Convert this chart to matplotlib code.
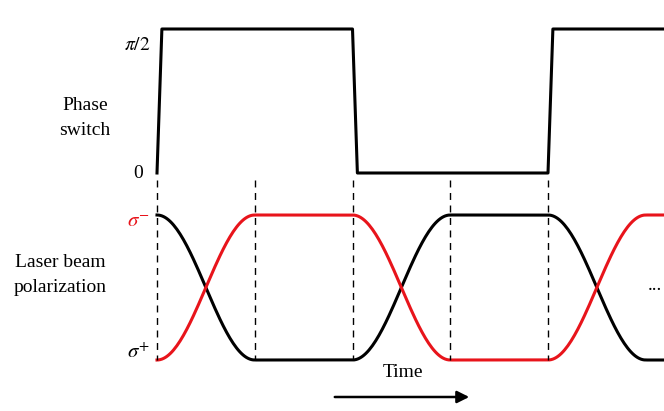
import numpy as np
import matplotlib.pyplot as plt

plt.rcParams['font.family'] = ['Liberation Serif', 'DejaVu Serif']
plt.rcParams['mathtext.fontset'] = 'stix'

# phase switch: time (in units of one half-cycle) and phase value
phase_t = [0, 0.05, 2.0, 2.05, 4.0, 4.05, 5.2]
phase_v = [0, np.pi / 2, np.pi / 2, 0, 0, np.pi / 2, np.pi / 2]

# polarization state of black beam at segment boundaries (+1 = sigma-, -1 = sigma+)
seg_t = [0, 1, 2, 3, 4, 5, 5.2]
black_state = [1, -1, -1, 1, 1, -1, -1]
dash_t = [0, 1, 2, 3, 4]

px_per_t = 97.75
x0 = 157


def tx(t):
    return x0 + np.asarray(t) * px_per_t


def phase_y(v):
    return 173 - 144 * np.asarray(v) / (np.pi / 2)


def pol_y(p):
    return 287.5 - 72.5 * np.asarray(p)


# smooth (cosine) transitions between the states
tt, bb = [], []
for i in range(len(seg_t) - 1):
    s = np.linspace(0, 1, 60)
    a, b = black_state[i], black_state[i + 1]
    tt.append(seg_t[i] + s * (seg_t[i + 1] - seg_t[i]))
    bb.append(a + (b - a) * (1 - np.cos(np.pi * s)) / 2)
tt = np.concatenate(tt)
bb = np.concatenate(bb)

fig = plt.figure(figsize=(6.64, 4.11), dpi=100)
ax = fig.add_axes([0, 0, 1, 1])
ax.set_xlim(0, 664)
ax.set_ylim(411, 0)
ax.axis('off')

ax.plot(tx(phase_t), phase_y(phase_v), color='black', lw=2.2)
ax.plot(tx(tt), pol_y(bb), color='black', lw=2.2)
ax.plot(tx(tt), pol_y(-bb), color='#e8141b', lw=2.2)
for d in dash_t:
    ax.plot([tx(d), tx(d)], [180, 360], color='black', lw=1, ls=(0, (5, 4)))

fs = 14
ax.text(150, 45, r'$\pi/2$', ha='right', va='center', fontsize=fs)
ax.text(143, 173, '0', ha='right', va='center', fontsize=fs)
ax.text(85, 118, 'Phase\nswitch', ha='center', va='center', fontsize=fs, linespacing=1.6)
ax.text(150, 222, r'$\sigma^{-}$', ha='right', va='center', fontsize=fs + 1, color='#e8141b')
ax.text(150, 353, r'$\sigma^{+}$', ha='right', va='center', fontsize=fs + 1)
ax.text(60, 275, 'Laser beam\npolarization', ha='center', va='center', fontsize=fs, linespacing=1.6)
ax.text(655, 285, '...', ha='center', va='center', fontsize=fs)
ax.text(403, 372, 'Time', ha='center', va='center', fontsize=fs)
ax.annotate('', xy=(472, 397), xytext=(332, 397),
            arrowprops=dict(arrowstyle='-|>', color='black', lw=1.8, mutation_scale=18))

fig.savefig('out.png', dpi=100)
